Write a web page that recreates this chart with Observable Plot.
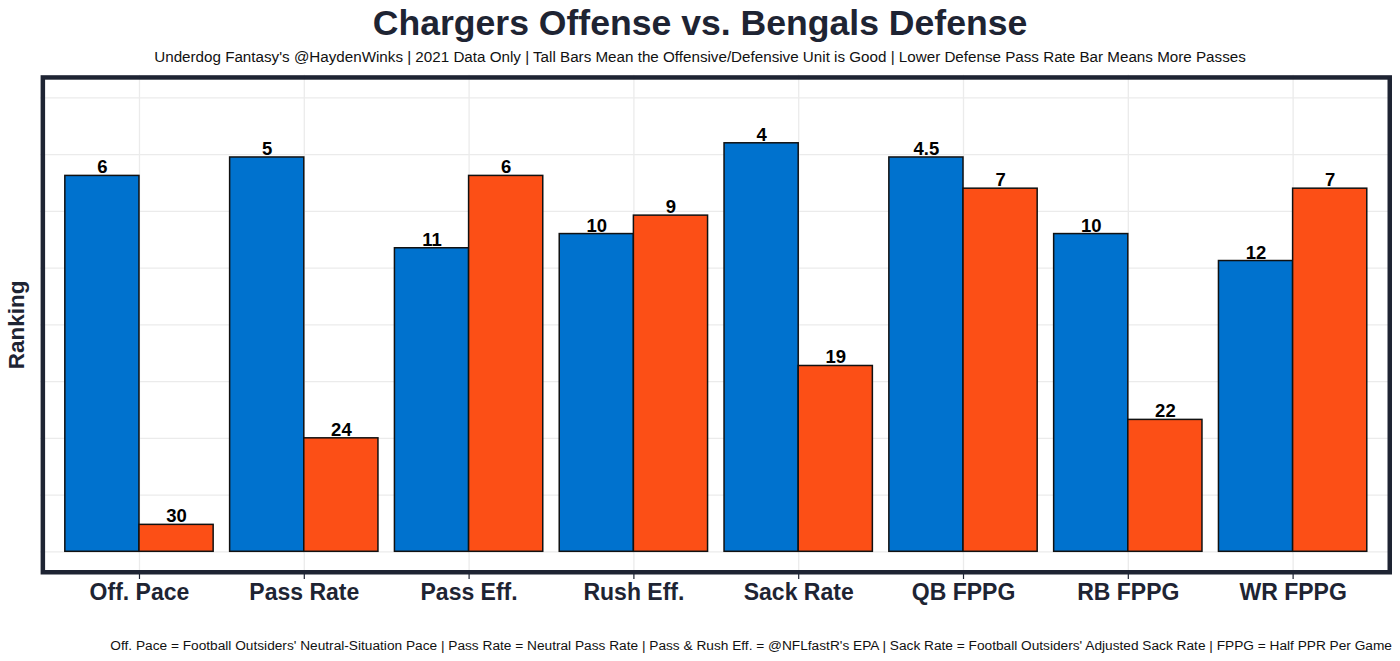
<!DOCTYPE html>
<html>
<head>
<meta charset="utf-8">
<script src="https://cdn.jsdelivr.net/npm/d3@7"></script>
<script src="https://cdn.jsdelivr.net/npm/@observablehq/plot@0.6"></script>
<style>
  html, body { margin: 0; padding: 0; background: #ffffff; }
  #wrap { position: relative; width: 1400px; height: 661px; overflow: hidden; font-family: "Liberation Sans", Arial, sans-serif; }
  #title { position: absolute; left: 0; top: 3px; width: 1400px; text-align: center; font-weight: bold; font-size: 35.6px; color: #1e2433; line-height: 40px; }
  #subtitle { position: absolute; left: 0; top: 48px; width: 1400px; text-align: center; font-size: 15.2px; color: #111111; line-height: 18px; }
  #chart { position: absolute; left: 0; top: 68px; }
  #caption { position: absolute; right: 8px; top: 638px; font-size: 13.7px; color: #111111; line-height: 16px; white-space: nowrap; }
</style>
</head>
<body>
<div id="wrap">
  <div id="title">Chargers Offense vs. Bengals Defense</div>
  <div id="subtitle">Underdog Fantasy's @HaydenWinks | 2021 Data Only | Tall Bars Mean the Offensive/Defensive Unit is Good | Lower Defense Pass Rate Bar Means More Passes</div>
  <div id="chart"></div>
  <div id="caption">Off. Pace = Football Outsiders' Neutral-Situation Pace | Pass Rate = Neutral Pass Rate | Pass &amp; Rush Eff. = @NFLfastR's EPA | Sack Rate = Football Outsiders' Adjusted Sack Rate | FPPG = Half PPR Per Game</div>
</div>
<script>
// ---- data ----
const categories = ["Off. Pace", "Pass Rate", "Pass Eff.", "Rush Eff.", "Sack Rate", "QB FPPG", "RB FPPG", "WR FPPG"];
const offenseRank = [6, 5, 11, 10, 4, 4.5, 10, 12];
const defenseRank = [30, 24, 6, 9, 19, 7, 22, 7];
// bar heights (taller = better unit)
const offenseBar = [26.5, 27.8, 21.4, 22.4, 28.8, 27.8, 22.4, 20.5];
const defenseBar = [1.9, 8.0, 26.5, 23.7, 13.1, 25.6, 9.3, 25.6];
const gridValues = [0, 4, 8, 12, 16, 20, 24, 28, 32];
const yAxisLabel = ["Ranking"];

const offense = categories.map((c, i) => ({category: c, value: offenseBar[i], rank: offenseRank[i]}));
const defense = categories.map((c, i) => ({category: c, value: defenseBar[i], rank: defenseRank[i]}));

const W = 1400, H = 547;
const mL = 40.1, mR = 8.5, mT = 6.7, mB = 41;
const pIn = 0.1, pOut = 0.15;
const step = (W - mL - mR) / (categories.length - pIn + 2 * pOut);
const bw = step * (1 - pIn);
const half = bw / 2;

const blue = "#0072ce";
const orange = "#fc4f16";
const ink = "#1e2433";

const chart = Plot.plot({
  width: W,
  height: H,
  marginLeft: mL,
  marginRight: mR,
  marginTop: mT,
  marginBottom: mB,
  style: {fontFamily: "'Liberation Sans', Arial, sans-serif", background: "transparent", overflow: "visible"},
  x: {type: "band", domain: categories, paddingInner: pIn, paddingOuter: pOut, round: false, label: null},
  y: {domain: [-1.6, 33.6], axis: null},
  marks: [
    Plot.ruleY(gridValues, {stroke: "#ebebeb", strokeWidth: 1.3}),
    Plot.ruleX(categories, {x: d => d, stroke: "#ebebeb", strokeWidth: 1.3}),
    Plot.barY(offense, {x: "category", y: "value", fill: blue, stroke: "#111111", strokeWidth: 1.5, insetRight: half}),
    Plot.barY(defense, {x: "category", y: "value", fill: orange, stroke: "#111111", strokeWidth: 1.5, insetLeft: half}),
    Plot.text(offense, {x: "category", y: "value", text: d => String(d.rank), dx: -half / 2, dy: -2.5, lineAnchor: "bottom", fontSize: 18.5, fontWeight: "bold", fill: "#000000"}),
    Plot.text(defense, {x: "category", y: "value", text: d => String(d.rank), dx: half / 2, dy: -2.5, lineAnchor: "bottom", fontSize: 18.5, fontWeight: "bold", fill: "#000000"}),
    Plot.frame({stroke: ink, strokeWidth: 4.5, inset: 2.25}),
    Plot.axisX({tickSize: 5, tickPadding: 4, fontSize: 23, fontWeight: "bold", color: ink, stroke: ink, strokeWidth: 1.2, label: null}),
    Plot.text(yAxisLabel, {frameAnchor: "left", dx: -24, rotate: -90, textAnchor: "middle", fontSize: 22.5, fontWeight: "bold", fill: ink, text: d => d})
  ]
});
document.getElementById("chart").appendChild(chart);
</script>
</body>
</html>
